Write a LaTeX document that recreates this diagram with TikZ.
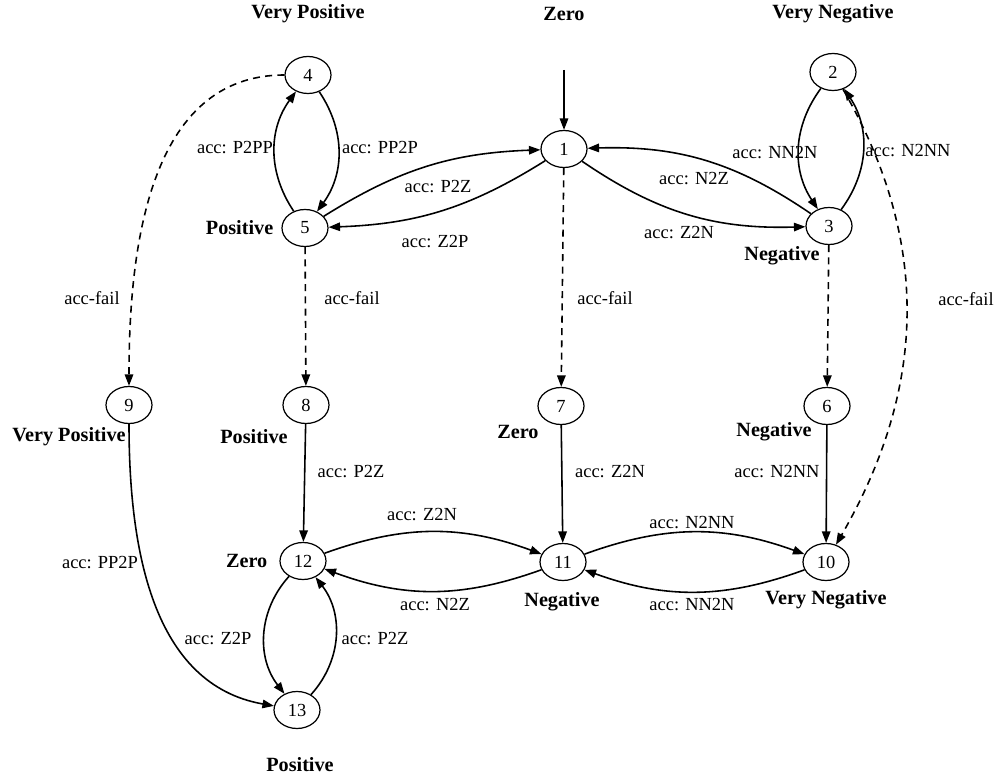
\documentclass[tikz,border=0pt]{standalone}
\usepackage{fontspec}
\setmainfont{Liberation Serif}
\usetikzlibrary{positioning,arrows.meta,shapes.geometric}

\begin{document}
\begin{tikzpicture}[
            node distance=0.2cm and 0.2cm,
            every node/.style={font=\fontsize{10.5}{12}\selectfont},
            state/.style={draw, ellipse, minimum width=0.92cm, minimum height=0.74cm, inner sep=0pt, line width=0.7pt},
            sign/.style={font=\fontsize{11.5}{13}\selectfont\bfseries, inner sep=1pt},
            acc/.style={inner sep=1pt},
            arrow/.style={-{Triangle[length=2.3mm, width=1.7mm]}, line width=0.9pt},
            failarrow/.style={arrow, dash pattern=on 4pt off 3pt}
        ]
            \useasboundingbox (0,0) rectangle (20,15.58);

            % States
            \node[state] (s1) at (11.28,12.60) {1};
            \node[state] (s2) at (16.66,14.14) {2};
            \node[state] (s3) at (16.58,11.06) {3};
            \node[state] (s4) at (6.16,14.08) {4};
            \node[state] (s5) at (6.10,11.02) {5};
            \node[state] (s6) at (16.54,7.46) {6};
            \node[state] (s7) at (11.22,7.46) {7};
            \node[state] (s8) at (6.12,7.48) {8};
            \node[state] (s9) at (2.58,7.48) {9};
            \node[state] (s10) at (16.52,4.34) {10};
            \node[state] (s11) at (11.26,4.34) {11};
            \node[state] (s12) at (6.06,4.36) {12};
            \node[state] (s13) at (5.94,1.38) {13};

            % Sign labels
            \node[sign] (l4) at (6.16,15.30) {Very Positive};
            \node[sign] (l1) at (11.28,15.30) {Zero};
            \node[sign] (l2) at (16.66,15.30) {Very Negative};
            \node[sign, left=0.12cm of s5] (l5) {Positive};
            \node[sign] (l3) at (15.64,10.46) {Negative};
            \node[sign] (l9) at (1.38,6.84) {Very Positive};
            \node[sign] (l8) at (5.08,6.84) {Positive};
            \node[sign] (l7) at (10.36,6.94) {Zero};
            \node[sign] (l6) at (15.48,6.94) {Negative};
            \node[sign, left=0.2cm of s12] (l12) {Zero};
            \node[sign] (l11) at (11.24,3.54) {Negative};
            \node[sign] (l10) at (16.52,3.58) {Very Negative};
            \node[sign] (l13) at (6.00,0.28) {Positive};

            % Start
            \coordinate (init) at (11.28,14.18);
            \draw[arrow] (init) -- (s1);

            % Upper row
            \draw[arrow] (s5) to[bend left=35] (s4);
            \draw[arrow] (s4) to[bend left=35] (s5);
            \draw[arrow] (s5) to[bend left=15] (s1);
            \draw[arrow] (s1) to[bend left=15] (s5);
            \draw[arrow] (s3) to[bend right=18] (s1);
            \draw[arrow] (s1) to[bend right=18] (s3);
            \draw[arrow] (s2) to[bend right=35] (s3);
            \draw[arrow] (s3) to[bend right=35] (s2);

            % Failed accelerations
            \draw[failarrow] (s4) to[out=180, in=90] (s9);
            \draw[failarrow] (s5) -- (s8);
            \draw[failarrow] (s1) -- (s7);
            \draw[failarrow] (s3) -- (s6);
            \draw[failarrow] (s2) to[out=-60, in=60] (s10);

            % Lower rows
            \draw[arrow] (s8) -- (s12);
            \draw[arrow] (s7) -- (s11);
            \draw[arrow] (s6) -- (s10);
            \draw[arrow] (s12) to[bend left=20] (s11);
            \draw[arrow] (s11) to[bend left=20] (s12);
            \draw[arrow] (s11) to[bend left=20] (s10);
            \draw[arrow] (s10) to[bend left=20] (s11);
            \draw[arrow] (s9) to[out=-90, in=170] (s13);
            \draw[arrow] (s12) to[bend right=40] (s13);
            \draw[arrow] (s13) to[bend right=40] (s12);

            % Edge labels
            \node[acc] (a54) at (4.70,12.62) {acc: P2PP};
            \node[acc] (a45) at (7.60,12.62) {acc: PP2P};
            \node[acc] (a51) at (8.76,11.84) {acc: P2Z};
            \node[acc] (a15) at (8.70,10.74) {acc: Z2P};
            \node[acc] (a23) at (15.50,12.52) {acc: NN2N};
            \node[acc] (a31) at (13.88,12.00) {acc: N2Z};
            \node[acc] (a13) at (13.58,10.92) {acc: Z2N};
            \node[acc] (a32) at (18.16,12.56) {acc: N2NN};
            \node[acc] (f49) at (1.84,9.62) {acc-fail};
            \node[acc] (f58) at (7.04,9.62) {acc-fail};
            \node[acc] (f17) at (12.10,9.62) {acc-fail};
            \node[acc] (f210) at (19.32,9.60) {acc-fail};
            \node[acc] (a812) at (7.02,6.14) {acc: P2Z};
            \node[acc] (a711) at (12.20,6.14) {acc: Z2N};
            \node[acc] (a610) at (15.54,6.14) {acc: N2NN};
            \node[acc] (a1211) at (8.44,5.28) {acc: Z2N};
            \node[acc] (a1110) at (13.84,5.12) {acc: N2NN};
            \node[acc] (a1112) at (8.70,3.48) {acc: N2Z};
            \node[acc] (a1011) at (13.84,3.48) {acc: NN2N};
            \node[acc] (a913) at (2.00,4.32) {acc: PP2P};
            \node[acc] (a1213) at (4.36,2.80) {acc: Z2P};
            \node[acc] (a1312) at (7.50,2.80) {acc: P2Z};

        \end{tikzpicture}
\end{document}
